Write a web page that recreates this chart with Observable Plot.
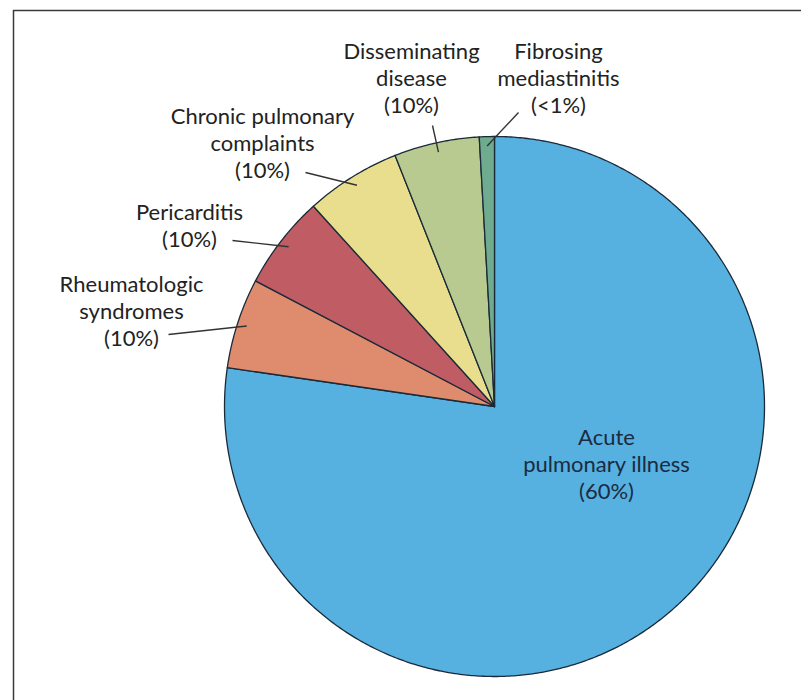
<!DOCTYPE html>
<html><head><meta charset="utf-8">
<script src="https://cdn.jsdelivr.net/npm/d3@7"></script>
<script src="https://cdn.jsdelivr.net/npm/@observablehq/plot@0.6"></script>
<style>body{margin:0;background:#fff}svg{display:block}</style>
</head><body><div id="chart"></div>
<script>
// ---- data ----
const categories = ["Acute pulmonary illness","Rheumatologic syndromes","Pericarditis","Chronic pulmonary complaints","Disseminating disease","Fibrosing mediastinitis"];
// share of the circle each slice occupies as drawn (percent)
const sliceShares = [77.3, 5.4, 5.6, 5.7, 5.1, 0.9];
// printed label text
const labelLines = [
  ["Acute","pulmonary illness","(60%)"],
  ["Rheumatologic","syndromes","(10%)"],
  ["Pericarditis","(10%)"],
  ["Chronic pulmonary","complaints","(10%)"],
  ["Disseminating","disease","(10%)"],
  ["Fibrosing","mediastinitis","(<1%)"]
];
const colors = ["#56b0e0","#df8c6e","#bf5c64","#e9de8e","#b8ca90","#6fab8e"];

// ---- layout ----
const W = 801, H = 700, CX = 494, CY = 406, R = 270;
const labelPos = [[606,463],[131,310],[189,224],[262,142],[411,77],[558,77]];
const leaderFrom = [null,[168,334],[232,240],[305,172],[432,125],[518,112]];
const leaderR = 0.965;

const toX = px => (px - CX) / R, toY = py => (py - CY) / R;

const rows = categories.map((name, i) => ({name, share: sliceShares[i], i}));
const arcs = d3.pie().sort(null).value(d => d.share)(rows);

const points = [];
for (const a of arcs) {
  const name = a.data.name;
  points.push({name, x: 0, y: 0});
  const n = Math.max(2, Math.ceil((a.endAngle - a.startAngle) / (Math.PI / 360)));
  for (let k = 0; k <= n; k++) {
    const t = a.startAngle + (a.endAngle - a.startAngle) * k / n;
    points.push({name, x: Math.sin(t), y: -Math.cos(t)});
  }
  points.push({name, x: 0, y: 0});
}

const leaders = arcs.filter(a => leaderFrom[a.data.i]).map(a => {
  const m = (a.startAngle + a.endAngle) / 2;
  const f = leaderFrom[a.data.i];
  return {x1: toX(f[0]), y1: toY(f[1]), x2: leaderR * Math.sin(m), y2: -leaderR * Math.cos(m)};
});

const labels = rows.map(r => ({
  text: labelLines[r.i].join("\n"),
  x: toX(labelPos[r.i][0]), y: toY(labelPos[r.i][1]),
  inside: r.i === 0
}));

const chart = Plot.plot({
  width: W, height: H,
  marginTop: 10, marginLeft: 13, marginRight: 0, marginBottom: 0,
  x: {domain: [toX(13), toX(W)], range: [13, W], axis: null},
  y: {domain: [toY(10), toY(H)], range: [10, H], axis: null},
  color: {domain: categories, range: colors},
  style: {fontFamily: "Lato, 'Open Sans', sans-serif", background: "#fff"},
  marks: [
    Plot.ruleY([toY(10)], {stroke: "#3a3a3a", strokeWidth: 1.5}),
    Plot.ruleX([toX(13)], {stroke: "#3a3a3a", strokeWidth: 1.5}),
    Plot.line(points, {x: "x", y: "y", z: "name", fill: "name", stroke: "#1b2a38", strokeWidth: 1.3, strokeLinejoin: "round"}),
    Plot.link(leaders, {x1: "x1", y1: "y1", x2: "x2", y2: "y2", stroke: "#333", strokeWidth: 1.4}),
    Plot.text(labels, {x: "x", y: "y", text: "text", textAnchor: "middle", lineAnchor: "middle", lineHeight: 1.23, fontSize: 22, fill: d => d.inside ? "#1b2b40" : "#222"})
  ]
});
document.getElementById("chart").append(chart);
</script>
</body></html>
